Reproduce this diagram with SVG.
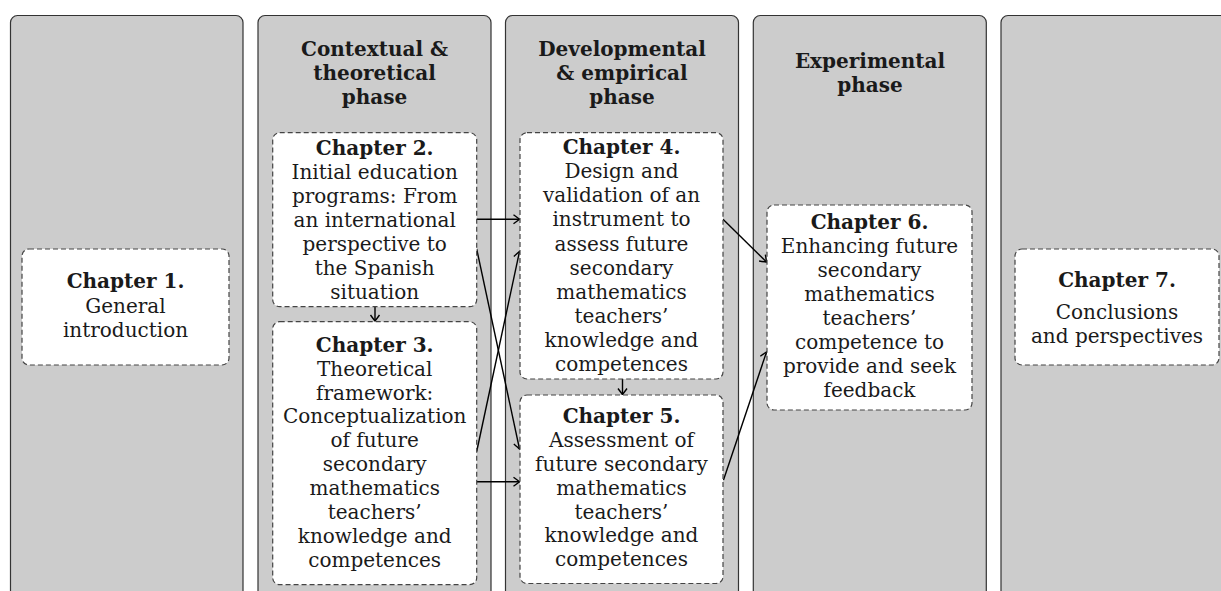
<svg xmlns="http://www.w3.org/2000/svg" width="1221" height="591" viewBox="0 0 1221 591">
<style>
.col{fill:#cccccc;stroke:#333333;stroke-width:1.2}
.box{fill:#ffffff;stroke:#444444;stroke-width:1.2;stroke-dasharray:5 3}
text{font-family:"DejaVu Serif","Liberation Serif",serif;font-size:20px;fill:#1a1a1a;text-anchor:middle}
.b{font-weight:bold}
.con{stroke:#000;stroke-width:1.4;fill:none;marker-end:url(#arr)}
</style>
<defs>
<marker id="arr" markerUnits="userSpaceOnUse" markerWidth="14" markerHeight="14" viewBox="-7 -7 14 14" refX="0" refY="0" orient="auto">
<path d="M -6 -4.5 Q -1.5 -1.2 0 0 Q -1.5 1.2 -6 4.5" fill="none" stroke="#000" stroke-width="1.4"/>
</marker>
</defs>
<g id="columns">
<rect id="col1" class="col" x="10.5" y="15.5" width="232.5" height="600" rx="7"/>
<rect id="col2" class="col" x="258" y="15.5" width="233" height="600" rx="7"/>
<rect id="col3" class="col" x="505.5" y="15.5" width="233" height="600" rx="7"/>
<rect id="col4" class="col" x="753.3" y="15.5" width="233" height="600" rx="7"/>
<rect id="col5" class="col" x="1001" y="15.5" width="233" height="600" rx="7"/>
</g>
<g id="headers">
<g id="h-contextual"><text class="b" x="374.5" y="56">Contextual &amp;</text><text class="b" x="374.5" y="80">theoretical</text><text class="b" x="374.5" y="104">phase</text></g>
<g id="h-developmental"><text class="b" x="622" y="56">Developmental</text><text class="b" x="622" y="80">&amp; empirical</text><text class="b" x="622" y="104">phase</text></g>
<g id="h-experimental"><text class="b" x="870" y="68">Experimental</text><text class="b" x="870" y="92">phase</text></g>
</g>
<g id="connectors">
<line class="con" x1="476.7" y1="219.3" x2="519.5" y2="219.3"/>
<line class="con" x1="476.7" y1="249" x2="519.5" y2="449"/>
<line class="con" x1="476.7" y1="451.5" x2="519.5" y2="251.5"/>
<line class="con" x1="476.7" y1="481.7" x2="519.5" y2="481.7"/>
<line class="con" x1="375" y1="306.7" x2="375" y2="321"/>
<line class="con" x1="622.5" y1="379" x2="622.5" y2="394.5"/>
<line class="con" x1="723" y1="219.3" x2="766.5" y2="262"/>
<line class="con" x1="723.5" y1="480" x2="766.5" y2="352"/>
</g>
<g id="ch1">
<rect class="box" x="22" y="249" width="207" height="116" rx="7"/>
<text class="b" x="125.5" y="288.3">Chapter 1.</text>
<text x="125.5" y="312.7">General</text>
<text x="125.5" y="336.7">introduction</text>
</g>
<g id="ch2">
<rect class="box" x="272.7" y="132.7" width="204" height="174" rx="7"/>
<text class="b" x="374.7" y="155">Chapter 2.</text>
<text x="374.7" y="179">Initial education</text>
<text x="374.7" y="203">programs: From</text>
<text x="374.7" y="227">an international</text>
<text x="374.7" y="251">perspective to</text>
<text x="374.7" y="275">the Spanish</text>
<text x="374.7" y="299">situation</text>
</g>
<g id="ch3">
<rect class="box" x="272.7" y="321.7" width="204" height="263" rx="7"/>
<text class="b" x="374.7" y="351.7">Chapter 3.</text>
<text x="374.7" y="375.6">Theoretical</text>
<text x="374.7" y="399.5">framework:</text>
<text x="374.7" y="423.4">Conceptualization</text>
<text x="374.7" y="447.3">of future</text>
<text x="374.7" y="471.2">secondary</text>
<text x="374.7" y="495.1">mathematics</text>
<text x="374.7" y="519">teachers’</text>
<text x="374.7" y="542.9">knowledge and</text>
<text x="374.7" y="566.8">competences</text>
</g>
<g id="ch4">
<rect class="box" x="520" y="132.7" width="203" height="246.3" rx="7"/>
<text class="b" x="621.5" y="154.3">Chapter 4.</text>
<text x="621.5" y="178.3">Design and</text>
<text x="621.5" y="202.4">validation of an</text>
<text x="621.5" y="226.4">instrument to</text>
<text x="621.5" y="250.5">assess future</text>
<text x="621.5" y="274.5">secondary</text>
<text x="621.5" y="298.6">mathematics</text>
<text x="621.5" y="322.6">teachers’</text>
<text x="621.5" y="346.7">knowledge and</text>
<text x="621.5" y="370.7">competences</text>
</g>
<g id="ch5">
<rect class="box" x="520" y="395" width="203" height="188.5" rx="7"/>
<text class="b" x="621.5" y="423.3">Chapter 5.</text>
<text x="621.5" y="447.1">Assessment of</text>
<text x="621.5" y="470.9">future secondary</text>
<text x="621.5" y="494.7">mathematics</text>
<text x="621.5" y="518.5">teachers’</text>
<text x="621.5" y="542.3">knowledge and</text>
<text x="621.5" y="566.1">competences</text>
</g>
<g id="ch6">
<rect class="box" x="767" y="205" width="205" height="205" rx="7"/>
<text class="b" x="869.5" y="229.3">Chapter 6.</text>
<text x="869.5" y="253.2">Enhancing future</text>
<text x="869.5" y="277.1">secondary</text>
<text x="869.5" y="301">mathematics</text>
<text x="869.5" y="324.9">teachers’</text>
<text x="869.5" y="348.8">competence to</text>
<text x="869.5" y="372.7">provide and seek</text>
<text x="869.5" y="396.6">feedback</text>
</g>
<g id="ch7">
<rect class="box" x="1015" y="249" width="204" height="116" rx="7"/>
<text class="b" x="1117" y="286.7">Chapter 7.</text>
<text x="1117" y="319.3">Conclusions</text>
<text x="1117" y="342.7">and perspectives</text>
</g>
</svg>
